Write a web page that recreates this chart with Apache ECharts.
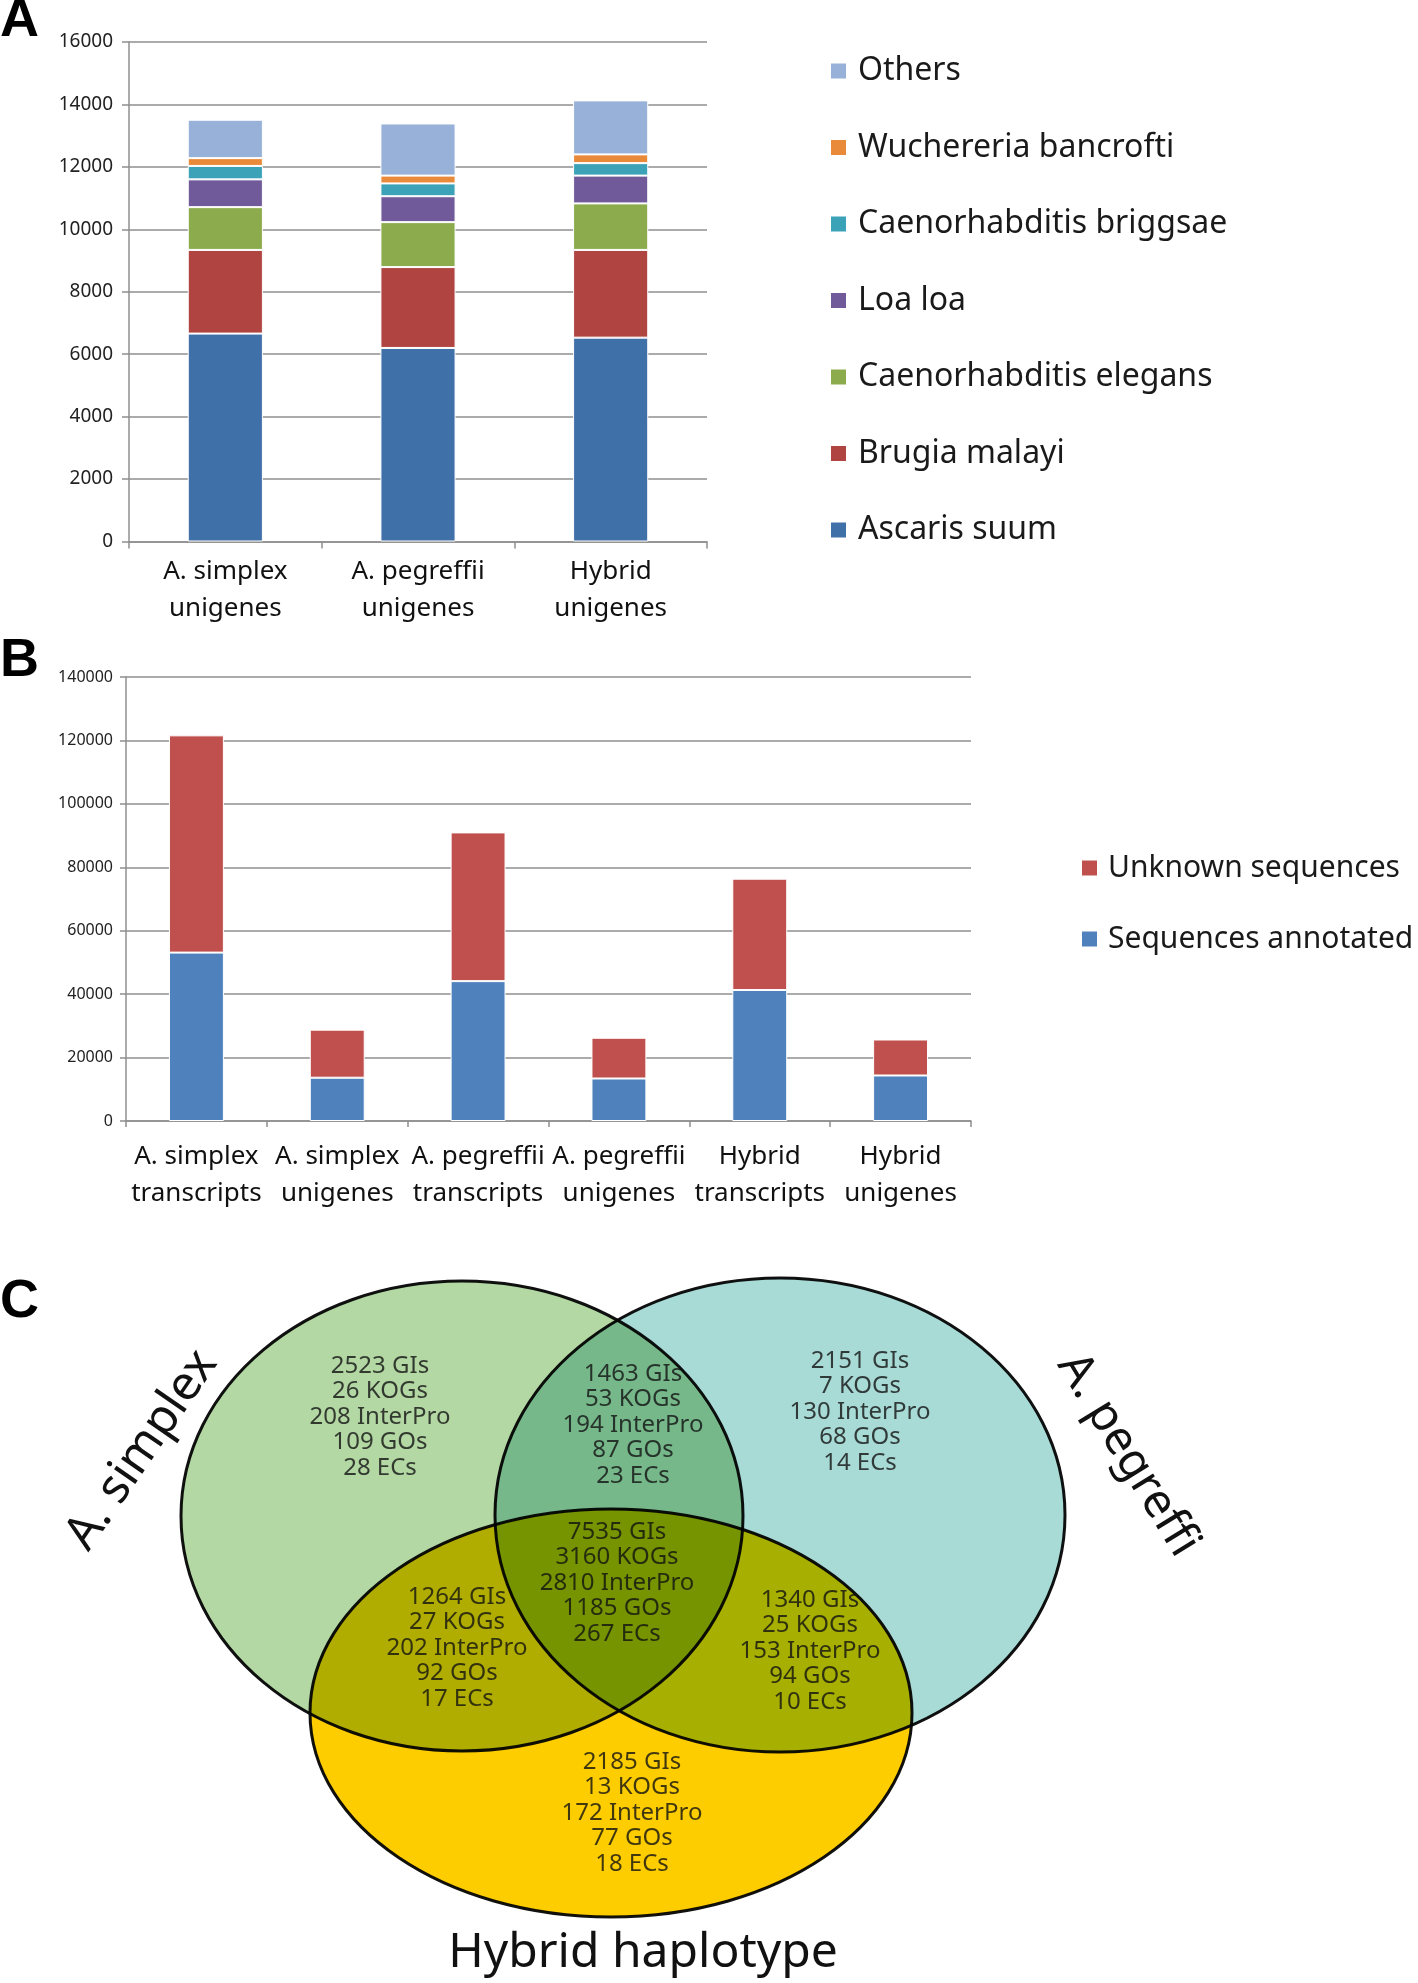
<!DOCTYPE html>
<html><head><meta charset="utf-8">
<script src="https://cdn.jsdelivr.net/npm/echarts@6/dist/echarts.min.js"></script>
<style>html,body{margin:0;padding:0;background:#fff;}#main{width:1418px;height:1983px;}</style>
</head><body><div id="main"></div>
<script>
// ---------- Panel A data ----------
const catsA = ['A. simplex\nunigenes', 'A. pegreffii\nunigenes', 'Hybrid\nunigenes'];
const seriesNamesA = ['Ascaris suum', 'Brugia malayi', 'Caenorhabditis elegans', 'Loa loa', 'Caenorhabditis briggsae', 'Wuchereria bancrofti', 'Others'];
const ascarisSuum = [6660, 6200, 6530];
const brugiaMalayi = [2680, 2590, 2810];
const caenoElegans = [1370, 1440, 1490];
const loaLoa = [890, 830, 890];
const caenoBriggsae = [430, 410, 400];
const wuchereria = [250, 250, 280];
const othersA = [1230, 1670, 1730];
const ticksA = [0, 2000, 4000, 6000, 8000, 10000, 12000, 14000, 16000];

// ---------- Panel B data ----------
const catsB = ['A. simplex\ntranscripts', 'A. simplex\nunigenes', 'A. pegreffii\ntranscripts', 'A. pegreffii\nunigenes', 'Hybrid\ntranscripts', 'Hybrid\nunigenes'];
const seqAnnotated = [53100, 13650, 44100, 13400, 41300, 14350];
const seqUnknown = [68500, 15150, 46900, 12850, 35100, 11350];
const ticksB = [0, 20000, 40000, 60000, 80000, 100000, 120000, 140000];

// ---------- Panel C data ----------
const vennSets = ['A. simplex', 'A. pegreffi', 'Hybrid haplotype'];
const vennRegions = ['A. simplex only', 'A. simplex & A. pegreffi', 'A. pegreffi only', 'All three', 'A. simplex & Hybrid', 'A. pegreffi & Hybrid', 'Hybrid only'];
const vennGIs = [2523, 1463, 2151, 7535, 1264, 1340, 2185];
const vennKOGs = [26, 53, 7, 3160, 27, 25, 13];
const vennInterPro = [208, 194, 130, 2810, 202, 153, 172];
const vennGOs = [109, 87, 68, 1185, 92, 94, 77];
const vennECs = [28, 23, 14, 267, 17, 10, 18];

// ---------- layout / geometry (venn units) ----------
const ellCx = [462, 780, 611], ellCy = [256, 255, 453], ellRx = [281, 285, 301], ellRy = [235, 237, 204];
const lblX = [380, 633, 860, 617, 457, 810, 632], lblY = [157, 165, 152, 323, 388, 391, 553];

// ---------- styles ----------
const FONT = '"Noto Sans", "Open Sans", sans-serif';
const colorsA = ['#4070a8', '#b04441', '#8bab4c', '#715a9a', '#3ba2b8', '#e98a3b', '#97b1d8'];
const colorsB = { ann: '#4f81bd', unk: '#c0504d' };
const vennFill = ['#b3d8a4', '#a8dad6', '#fdcd00'];
const gridCol = '#8f8f8f';

const dataA = [ascarisSuum, brugiaMalayi, caenoElegans, loaLoa, caenoBriggsae, wuchereria, othersA];

const seriesA = seriesNamesA.map((n, i) => ({
  name: n, type: 'bar', stack: 'A', xAxisIndex: 0, yAxisIndex: 0, barWidth: '39%',
  data: dataA[i], itemStyle: { color: colorsA[i], borderColor: '#fff', borderWidth: 1 }
}));

const seriesB = [
  { name: 'Sequences annotated', type: 'bar', stack: 'B', xAxisIndex: 1, yAxisIndex: 1, barWidth: '39%',
    data: seqAnnotated, itemStyle: { color: colorsB.ann, borderColor: '#fff', borderWidth: 1 } },
  { name: 'Unknown sequences', type: 'bar', stack: 'B', xAxisIndex: 1, yAxisIndex: 1, barWidth: '39%',
    data: seqUnknown, itemStyle: { color: colorsB.unk, borderColor: '#fff', borderWidth: 1 } }
];

const vennEllipses = {
  type: 'custom', name: 'venn', xAxisIndex: 2, yAxisIndex: 2, blendMode: 'multiply',
  data: vennSets.map((s, i) => [ellCx[i], ellCy[i], ellRx[i], ellRy[i]]),
  renderItem: (params, api) => {
    const c = api.coord([api.value(0), api.value(1)]);
    const s = api.size([api.value(2), api.value(3)], [api.value(0), api.value(1)]);
    return { type: 'ellipse', shape: { cx: c[0], cy: c[1], rx: s[0], ry: s[1] },
      style: { fill: vennFill[params.dataIndex], stroke: '#111', lineWidth: 3 } };
  }
};

const vennLabels = {
  type: 'scatter', name: 'vennLabels', xAxisIndex: 2, yAxisIndex: 2, symbolSize: 1,
  itemStyle: { color: 'rgba(0,0,0,0)' }, silent: true,
  data: vennRegions.map((r, i) => [lblX[i], lblY[i]]),
  label: {
    show: true, position: 'inside', color: '#111', fontSize: 24, lineHeight: 25.5, fontFamily: FONT, align: 'center',
    formatter: p => {
      const i = p.dataIndex;
      return [vennGIs[i] + ' GIs', vennKOGs[i] + ' KOGs', vennInterPro[i] + ' InterPro', vennGOs[i] + ' GOs', vennECs[i] + ' ECs'].join('\n');
    }
  }
};

const LETTER = 'bold 54px "Liberation Sans", Arial, sans-serif';
const chart = echarts.init(document.getElementById('main'), null, { renderer: 'canvas' });
chart.setOption({
  animation: false,
  textStyle: { fontFamily: FONT },
  grid: [
    { left: 129, top: 42, width: 578, height: 499.5 },
    { left: 126, top: 677, width: 845, height: 444 },
    { left: 0, top: 1260, width: 1418, height: 723 }
  ],
  xAxis: [
    { type: 'category', gridIndex: 0, data: catsA,
      axisLine: { lineStyle: { color: gridCol, width: 1.5 } },
      axisTick: { show: true, length: 7, lineStyle: { color: gridCol, width: 1.5 } },
      axisLabel: { interval: 0, fontSize: 26, lineHeight: 37, color: '#111', margin: 12, fontFamily: FONT } },
    { type: 'category', gridIndex: 1, data: catsB,
      axisLine: { lineStyle: { color: gridCol, width: 1.5 } },
      axisTick: { show: true, length: 6, lineStyle: { color: gridCol, width: 1.5 } },
      axisLabel: { interval: 0, fontSize: 26, lineHeight: 37, color: '#111', margin: 17, fontFamily: FONT } },
    { type: 'value', gridIndex: 2, min: 0, max: 1418, show: false }
  ],
  yAxis: [
    { type: 'value', gridIndex: 0, min: ticksA[0], max: ticksA[ticksA.length - 1], interval: ticksA[1] - ticksA[0],
      axisLine: { show: true, lineStyle: { color: gridCol, width: 1.5 } },
      axisTick: { show: true, length: 7, lineStyle: { color: gridCol, width: 1.5 } },
      splitLine: { lineStyle: { color: gridCol, width: 1.5 } },
      axisLabel: { fontSize: 19, color: '#222', margin: 16, fontFamily: FONT, formatter: v => String(v) } },
    { type: 'value', gridIndex: 1, min: ticksB[0], max: ticksB[ticksB.length - 1], interval: ticksB[1] - ticksB[0],
      axisLine: { show: true, lineStyle: { color: gridCol, width: 1.5 } },
      axisTick: { show: true, length: 6, lineStyle: { color: gridCol, width: 1.5 } },
      splitLine: { lineStyle: { color: gridCol, width: 1.5 } },
      axisLabel: { fontSize: 16, color: '#222', margin: 13, fontFamily: FONT, formatter: v => String(v) } },
    { type: 'value', gridIndex: 2, min: 0, max: 723, inverse: true, show: false }
  ],
  legend: [
    { data: seriesNamesA.slice().reverse(), orient: 'vertical', left: 824, top: 50, icon: 'rect',
      itemWidth: 17, itemHeight: 17, itemGap: 44.5, selectedMode: false,
      textStyle: { fontSize: 32, lineHeight: 32, color: '#1a1a1a', fontFamily: FONT, padding: [0, 0, 0, 6] } },
    { data: ['Unknown sequences', 'Sequences annotated'], orient: 'vertical', left: 1075, top: 847, icon: 'rect',
      itemWidth: 17, itemHeight: 17, itemGap: 39, selectedMode: false,
      textStyle: { fontSize: 30, lineHeight: 32, color: '#1a1a1a', fontFamily: FONT, padding: [0, 0, 0, 5] } }
  ],
  graphic: [
    { type: 'text', x: 0, y: 21, style: { text: 'A', font: LETTER, fill: '#000', textVerticalAlign: 'middle' } },
    { type: 'text', x: 0, y: 661, style: { text: 'B', font: LETTER, fill: '#000', textVerticalAlign: 'middle' } },
    { type: 'text', x: 0, y: 1302, style: { text: 'C', font: LETTER, fill: '#000', textVerticalAlign: 'middle' } },
    { type: 'text', x: 142, y: 1450, rotation: 0.97, style: { text: vennSets[0], font: '48px ' + FONT, fill: '#111', textAlign: 'center', textVerticalAlign: 'middle' } },
    { type: 'text', x: 1128, y: 1455, rotation: -1.02, style: { text: vennSets[1], font: '47px ' + FONT, fill: '#111', textAlign: 'center', textVerticalAlign: 'middle' } },
    { type: 'text', x: 643, y: 1953, style: { text: vennSets[2], font: '48px ' + FONT, fill: '#111', textAlign: 'center', textVerticalAlign: 'middle' } }
  ],
  series: [...seriesA, ...seriesB, vennEllipses, vennLabels]
});
</script>
</body></html>
